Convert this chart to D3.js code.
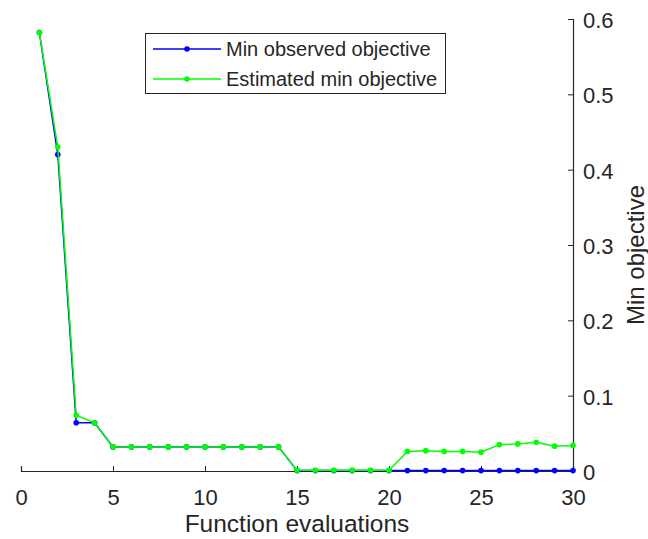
<!DOCTYPE html>
<html><head><meta charset="utf-8">
<script src="https://cdn.jsdelivr.net/npm/d3@7"></script>
<style>body{margin:0;background:#fff}text{font-family:"Liberation Sans",Arial,sans-serif;fill:#262626}</style>
</head><body><svg id="c" width="648" height="539"></svg>
<script>
const evals = d3.range(1, 31);
const minObserved = [0.582,0.42,0.064,0.064,0.032,0.032,0.032,0.032,0.032,0.032,0.032,0.032,0.032,0.032,0.0005,0.0005,0.0005,0.0005,0.0005,0.0005,0.0005,0.0005,0.0005,0.0005,0.0005,0.0005,0.0005,0.0005,0.0005,0.0005];
const estMin = [0.582,0.43,0.074,0.064,0.032,0.032,0.032,0.032,0.032,0.032,0.032,0.032,0.032,0.032,0.001,0.001,0.001,0.001,0.001,0.001,0.026,0.027,0.026,0.026,0.025,0.035,0.036,0.038,0.033,0.034];
const xTicks = [0,5,10,15,20,25,30];
const yTicks = [0,0.1,0.2,0.3,0.4,0.5,0.6];
const seriesNames = ["Min observed objective","Estimated min objective"];
const colors = ["#0000ff","#00ff00"];

const svg = d3.select("#c");
const x = d3.scaleLinear().domain([0,30]).range([21,573]);
const y = d3.scaleLinear().domain([0,0.6]).range([471,19]);

// axes
const xa = svg.append("g").attr("transform","translate(0,471)")
  .call(d3.axisBottom(x).tickValues(xTicks).tickSize(-5).tickPadding(0).tickFormat(d3.format("d")));
const ya = svg.append("g").attr("transform","translate(573,0)")
  .call(d3.axisRight(y).tickValues(yTicks).tickSize(-5).tickPadding(10).tickFormat(d=>d===0?"0":d3.format(".1f")(d)));
[xa,ya].forEach(a=>{
  a.select(".domain").attr("stroke","#262626").attr("stroke-width",1.2);
  a.selectAll(".tick line").attr("stroke","#262626");
  a.selectAll(".tick text").style("font-size","22px").attr("fill","#262626");
});
xa.selectAll(".tick text").attr("y",34).attr("dy",null);
ya.selectAll(".tick text").attr("dy","0.38em");

svg.append("text").attr("x",297).attr("y",532).attr("text-anchor","middle").style("font-size","24.5px").text("Function evaluations");
svg.append("text").attr("transform","translate(644,255) rotate(-90)").attr("text-anchor","middle").style("font-size","24px").text("Min objective");

const series = [minObserved, estMin];
const line = d3.line().x((d,i)=>x(evals[i])).y(d=>y(d));
series.forEach((s,k)=>{
  svg.append("path").datum(s).attr("d",line).attr("fill","none").attr("stroke",colors[k]).attr("stroke-width",1.5);
  svg.append("g").selectAll("circle").data(s).join("circle")
    .attr("cx",(d,i)=>x(evals[i])).attr("cy",d=>y(d)).attr("r",2.8).attr("fill",colors[k]);
});

// legend
const lg = svg.append("g");
lg.append("rect").attr("x",145.5).attr("y",33.5).attr("width",300).attr("height",60).attr("fill","#fff").attr("stroke","#262626").attr("stroke-width",1);
seriesNames.forEach((n,k)=>{
  const yy = 49 + k*30;
  lg.append("line").attr("x1",153).attr("x2",221).attr("y1",yy).attr("y2",yy).attr("stroke",colors[k]).attr("stroke-width",1.5);
  lg.append("circle").attr("cx",187).attr("cy",yy).attr("r",2.8).attr("fill",colors[k]);
  lg.append("text").attr("x",226).attr("y",yy).attr("dy","0.36em").style("font-size","20px").text(n);
});
</script></body></html>
